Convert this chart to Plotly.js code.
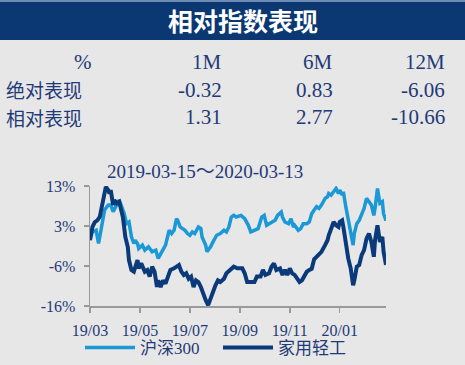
<!DOCTYPE html>
<html>
<head>
<meta charset="utf-8">
<script src="https://cdn.plot.ly/plotly-3.0.1.min.js"></script>
<style>
html,body{margin:0;padding:0;background:#e7e7e7;}
#chart{width:465px;height:365px;}
</style>
</head>
<body>
<div id="chart"></div>
<script>
// ---- data ----
const seriesNames = ['沪深300', '家用轻工'];
const hsDay = [0,2,5,7,9,12,15,17,19,21,24,26,28,30,32,34,36,37,39,40,43,45,48,51,54,56,59,62,65,67,69,71,72,74,76,78,80,82,84,86,89,91,92,95,96,99,101,104,107,110,112,114,116,118,120,122,124,127,130,132,135,138,141,143,145,147,150,152,154,157,158,160,163,165,167,168,171,173,175,178,180,182,184,186,188,190,193,195,196,198,200,202,204,205,207,208,210,212,214,216,217,219,221,223,225,227,229,231,233,234,236,238,240,241,243];
const hsVal = [0.3,1.9,2.3,-0.9,2.3,7.2,8.4,8.4,6.8,8.0,9.6,8.0,6.4,3.9,4.3,0.7,-0.9,-0.1,-0.9,-2.1,-1.3,-2.5,-1.7,-2.9,-2.5,-4.5,-3.0,-1.3,2.3,1.5,2.3,5.1,4.7,3.1,2.7,2.3,1.5,1.1,1.9,1.5,3.1,2.7,0.7,-1.3,-2.9,-1.7,-0.5,1.1,1.5,2.3,1.9,3.1,5.5,5.9,5.5,5.8,5.9,5.1,3.5,1.9,2.3,2.7,5.5,5.9,3.5,3.9,4.3,4.7,5.9,6.7,5.5,4.3,3.9,5.1,3.1,3.5,2.3,2.7,3.9,3.9,4.3,6.3,7.2,8.0,7.6,8.4,10.0,10.4,11.2,10.8,11.6,12.4,11.2,12.0,10.8,11.6,8.0,4.7,2.3,-1.3,1.5,3.9,4.7,6.3,7.6,10.0,9.2,8.4,5.9,7.6,12.4,8.8,9.2,6.3,4.6];
const jyDay = [0,2,4,6,8,10,12,13,15,16,17,19,20,22,24,25,27,29,31,32,34,36,38,39,40,42,45,47,49,51,53,55,56,58,60,62,64,66,69,71,73,75,77,79,81,83,85,87,89,91,93,95,97,99,101,103,105,107,110,112,115,118,121,123,125,127,129,132,135,137,140,142,144,147,149,151,153,156,158,160,162,164,166,168,170,172,174,176,178,180,182,184,186,188,190,193,195,196,198,200,202,204,205,207,208,210,212,214,216,217,219,221,223,225,227,229,231,233,234,236,238,240,241,243];
const jyVal = [-0.1,3.1,4.3,4.7,5.5,8.8,12.4,12.8,12.0,11.2,12.0,8.4,9.6,8.8,9.2,7.6,5.5,0.7,-1.7,-4.9,-7.3,-7.7,-5.3,-4.9,-6.9,-5.7,-7.7,-7.3,-8.9,-6.5,-7.7,-11.4,-9.8,-11.4,-9.8,-10.6,-8.9,-7.3,-6.9,-6.5,-6.1,-7.7,-8.5,-8.1,-9.4,-8.9,-11.4,-9.8,-10.2,-11.4,-13.4,-14.6,-15.8,-14.2,-12.2,-11.0,-9.8,-10.2,-9.4,-8.1,-7.3,-6.5,-6.9,-6.9,-6.9,-8.1,-10.2,-10.2,-10.2,-8.9,-8.9,-7.3,-8.5,-8.1,-6.5,-5.7,-7.3,-6.9,-8.5,-7.3,-8.5,-6.9,-8.1,-8.5,-9.4,-10.2,-9.8,-8.5,-7.7,-7.3,-7.0,-4.7,-4.0,-3.3,-2.9,-1.3,-0.1,1.1,3.1,4.3,3.5,3.1,4.3,4.7,3.1,-0.9,-4.5,-6.9,-11.0,-9.8,-6.5,-6.1,-3.7,-2.5,0.3,1.5,-0.5,-4.1,-0.1,3.5,-0.5,0.7,-2.9,-6.06];
const xTickDays = [0,41,82,123,164,205];
const xTickText = ['19/03','19/05','19/07','19/09','19/11','20/01'];
const yTickVals = [13, 3.333, -6.333, -16];
const yTickText = ['13%','3%','-6%','-16%'];
const titleText = '相对指数表现';
const subTitle = '2019-03-15～2020-03-13';
const tableHead = ['%','1M','6M','12M'];
const rowLabels = ['绝对表现','相对表现'];
const absPerf = ['-0.32','0.83','-6.06'];
const relPerf = ['1.31','2.77','-10.66'];

// ---- layout helpers (pixel -> paper) ----
const L = 90, R = 386, T = 186, B = 306;
const W = 465, H = 365;
const px = p => (p - L) / (R - L);
const py = p => (B - p) / (B - T);

const navy = '#1f3a78';
const serif = '"Liberation Serif", "Noto Sans CJK SC", serif';
const cjk = '"Noto Sans CJK SC", "Liberation Serif", sans-serif';

const annotations = [];
function txt(text, x, y, anchor, size, color, family, weight) {
  annotations.push({text: text, xref: 'paper', yref: 'paper', x: px(x), y: py(y),
    xanchor: anchor, yanchor: 'middle', showarrow: false, borderpad: 0,
    font: {size: size, color: color, family: family, weight: weight || 'normal'}});
}
txt(titleText, 243, 20, 'center', 25, '#ffffff', cjk, 'bold');
const colX = [93, 223, 334, 446];
tableHead.forEach((t, i) => txt(t, colX[i], 62, 'right', 21, navy, serif));
txt(rowLabels[0], 5, 89.5, 'left', 19, navy, cjk);
txt(rowLabels[1], 5, 117.5, 'left', 19, navy, cjk);
absPerf.forEach((t, i) => txt(t, colX[i + 1], 90, 'right', 21, navy, serif));
relPerf.forEach((t, i) => txt(t, colX[i + 1], 117, 'right', 21, navy, serif));
txt(subTitle, 205, 171, 'center', 19, navy, serif);

const shapes = [
  {type: 'rect', xref: 'paper', yref: 'paper', x0: px(0), x1: px(W), y0: py(40), y1: py(0),
   fillcolor: '#0b3873', line: {width: 0}, layer: 'below'},
  {type: 'rect', xref: 'paper', yref: 'paper', x0: px(0), x1: px(W), y0: py(2), y1: py(0),
   fillcolor: '#6f8bb3', line: {width: 0}, layer: 'below'}
];

const traces = [
  {x: hsDay, y: hsVal, type: 'scatter', mode: 'lines', name: seriesNames[0],
   line: {color: '#1b98d6', width: 3.5}},
  {x: jyDay, y: jyVal, type: 'scatter', mode: 'lines', name: seriesNames[1],
   line: {color: '#0a3a7a', width: 4}}
];

const layout = {
  width: W, height: H,
  margin: {l: L, r: W - R, t: T, b: H - B, pad: 0, autoexpand: false},
  paper_bgcolor: '#e7e7e7', plot_bgcolor: '#e7e7e7',
  showlegend: true,
  legend: {orientation: 'h', x: px(80), xanchor: 'left', y: py(348), yanchor: 'middle',
    font: {family: serif, size: 17, color: navy}, itemwidth: 50, entrywidth: 73, bgcolor: 'rgba(0,0,0,0)',
    traceorder: 'normal'},
  xaxis: {range: [0, 243], tickvals: xTickDays, ticktext: xTickText, showgrid: false, zeroline: false,
    showline: true, linecolor: '#9a9a9a', linewidth: 1.5, ticks: 'outside', ticklen: 5, tickcolor: '#9a9a9a',
    tickwidth: 1.5, ticklabelstandoff: 4, tickfont: {family: serif, size: 16, color: navy}, fixedrange: true},
  yaxis: {range: [-16, 13], tickvals: yTickVals, ticktext: yTickText, showgrid: false, zeroline: false,
    showline: true, linecolor: '#9a9a9a', linewidth: 1.5, ticks: 'outside', ticklen: 5, tickcolor: '#9a9a9a',
    tickwidth: 1.5, ticklabelstandoff: 5, tickfont: {family: serif, size: 16, color: navy}, fixedrange: true},
  annotations: annotations,
  shapes: shapes
};
Plotly.newPlot('chart', traces, layout, {displayModeBar: false, staticPlot: true});
</script>
</body>
</html>
